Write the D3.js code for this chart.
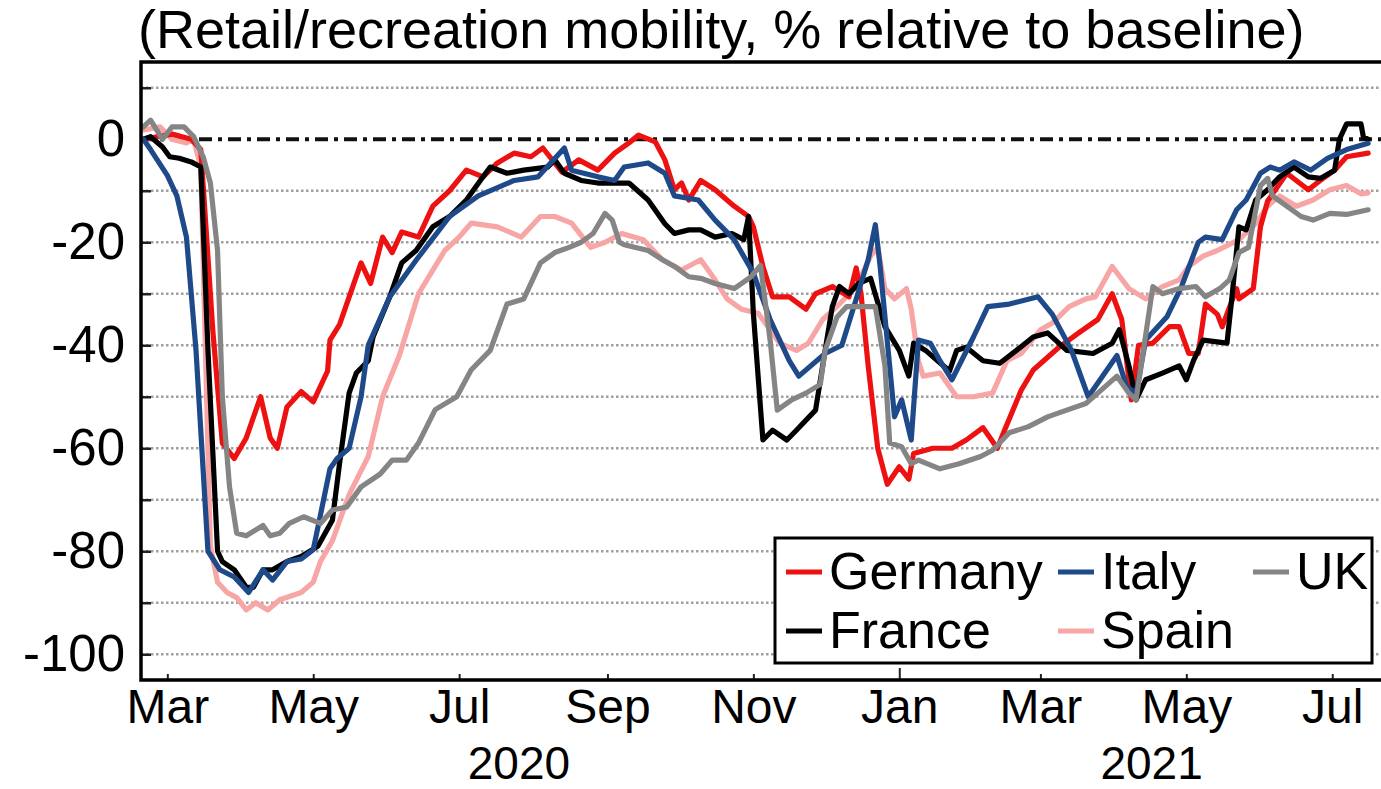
<!DOCTYPE html>
<html><head><meta charset="utf-8">
<script src="https://cdn.jsdelivr.net/npm/d3@7"></script>
<style>
html,body{margin:0;padding:0;background:#fff;}
svg{display:block;font-family:"Liberation Sans",Arial,sans-serif;}
</style></head>
<body>
<svg id="chart" width="1381" height="789"></svg>
<script>
// ---------- data ----------
const titleText = "(Retail/recreation mobility, % relative to baseline)";
const yTickValues = [0, -20, -40, -60, -80, -100];
const gridValues = [10, 0, -10, -20, -30, -40, -50, -60, -70, -80, -90, -100];
const monthTicks = ["2020-03-01","2020-05-01","2020-07-01","2020-09-01","2020-11-01","2021-01-01","2021-03-01","2021-05-01","2021-07-01"];
const yearLabels = [["2020","2020-02-19","2020-12-31"],["2021","2021-01-01","2021-07-31"]];

const germany = [["2020-02-20",0],["2020-03-03",1],["2020-03-11",0],["2020-03-15",-2],["2020-03-20",-37],["2020-03-24",-59],["2020-03-29",-62],["2020-04-03",-58],["2020-04-09",-50],["2020-04-13",-58],["2020-04-16",-60],["2020-04-20",-52],["2020-04-26",-49],["2020-05-01",-51],["2020-05-07",-45],["2020-05-08",-39],["2020-05-12",-36],["2020-05-18",-28],["2020-05-21",-24],["2020-05-25",-28],["2020-05-30",-19],["2020-06-03",-22],["2020-06-07",-18],["2020-06-14",-19],["2020-06-20",-13],["2020-06-27",-10],["2020-07-04",-6],["2020-07-11",-7.3],["2020-07-17",-4.6],["2020-07-24",-2.7],["2020-07-31",-3.4],["2020-08-05",-1.7],["2020-08-13",-6.4],["2020-08-20",-4],["2020-08-28",-6],["2020-09-04",-2.7],["2020-09-10",-0.7],["2020-09-14",0.8],["2020-09-21",-0.5],["2020-09-25",-4],["2020-09-29",-9.8],["2020-10-02",-8.5],["2020-10-05",-11.8],["2020-10-10",-8],["2020-10-16",-9.8],["2020-10-24",-13],["2020-10-30",-15],["2020-11-01",-17],["2020-11-05",-24.7],["2020-11-09",-30.6],["2020-11-16",-30.6],["2020-11-23",-33],["2020-11-27",-30],["2020-12-04",-28.6],["2020-12-11",-30.6],["2020-12-14",-25],["2020-12-16",-30],["2020-12-19",-44],["2020-12-23",-60],["2020-12-27",-67],["2021-01-01",-63.6],["2021-01-05",-66],["2021-01-07",-61],["2021-01-15",-60],["2021-01-23",-60],["2021-01-29",-58.4],["2021-02-05",-56],["2021-02-11",-60],["2021-02-14",-56.5],["2021-02-21",-48.7],["2021-02-26",-44.8],["2021-03-09",-40.3],["2021-03-17",-37.6],["2021-03-25",-35],["2021-03-31",-30],["2021-04-04",-35],["2021-04-08",-50.6],["2021-04-11",-40],["2021-04-17",-39.6],["2021-04-24",-36.4],["2021-04-28",-36.4],["2021-05-02",-41.6],["2021-05-06",-41.6],["2021-05-09",-32],["2021-05-14",-34],["2021-05-16",-36.4],["2021-05-22",-29],["2021-05-23",-31],["2021-05-29",-29],["2021-06-01",-17],["2021-06-04",-12],["2021-06-12",-6.6],["2021-06-21",-9.8],["2021-06-26",-8],["2021-07-02",-6],["2021-07-07",-3.4],["2021-07-16",-2.7]];

const italy = [["2020-02-20",0],["2020-02-23",-2],["2020-03-01",-7],["2020-03-05",-11],["2020-03-09",-19],["2020-03-13",-41],["2020-03-18",-80],["2020-03-23",-83.6],["2020-03-29",-85],["2020-04-04",-88],["2020-04-10",-83.6],["2020-04-14",-85.6],["2020-04-20",-82],["2020-04-26",-81.5],["2020-05-01",-79.7],["2020-05-04",-73],["2020-05-08",-64],["2020-05-11",-62],["2020-05-16",-60],["2020-05-21",-50],["2020-05-24",-40],["2020-06-02",-30.6],["2020-06-13",-23.5],["2020-06-27",-15],["2020-07-09",-11],["2020-07-24",-8],["2020-08-03",-7.3],["2020-08-14",-1.7],["2020-08-17",-6],["2020-08-28",-7.3],["2020-09-04",-8],["2020-09-08",-5.4],["2020-09-18",-4.6],["2020-09-25",-6.6],["2020-09-29",-11],["2020-10-09",-11.8],["2020-10-16",-15.7],["2020-10-24",-19.5],["2020-11-01",-26],["2020-11-08",-35],["2020-11-16",-43],["2020-11-20",-46],["2020-12-01",-41.6],["2020-12-08",-40],["2020-12-14",-31],["2020-12-19",-23.4],["2020-12-22",-16.6],["2020-12-24",-24.7],["2020-12-30",-53.9],["2021-01-02",-50.6],["2021-01-06",-58.4],["2021-01-09",-39],["2021-01-14",-39.6],["2021-01-18",-43],["2021-01-23",-46.7],["2021-02-01",-38.4],["2021-02-07",-32.5],["2021-02-16",-32],["2021-02-28",-30.6],["2021-03-06",-34],["2021-03-14",-41],["2021-03-21",-50],["2021-04-02",-42],["2021-04-06",-48],["2021-04-10",-49.3],["2021-04-14",-39],["2021-04-23",-34.4],["2021-04-29",-28.6],["2021-05-06",-20],["2021-05-09",-19],["2021-05-16",-19.5],["2021-05-22",-13.7],["2021-05-26",-11.8],["2021-06-01",-6.6],["2021-06-05",-5.4],["2021-06-09",-6],["2021-06-15",-4.4],["2021-06-22",-6],["2021-06-29",-3.7],["2021-07-07",-2],["2021-07-16",-0.8]];

const uk = [["2020-02-20",2.4],["2020-02-23",3.7],["2020-02-28",0],["2020-03-03",2.4],["2020-03-08",2.4],["2020-03-12",0.5],["2020-03-16",-3.4],["2020-03-19",-8.5],["2020-03-22",-21.6],["2020-03-24",-50],["2020-03-27",-67.5],["2020-03-30",-76.5],["2020-04-03",-77],["2020-04-10",-75],["2020-04-13",-77],["2020-04-17",-76.5],["2020-04-21",-74.6],["2020-04-27",-73.3],["2020-05-04",-74.6],["2020-05-09",-72],["2020-05-15",-71.4],["2020-05-21",-67.5],["2020-05-29",-65],["2020-06-03",-62.3],["2020-06-09",-62.3],["2020-06-14",-59],["2020-06-21",-52.5],["2020-06-30",-50],["2020-07-06",-44.8],["2020-07-14",-41],["2020-07-21",-32],["2020-07-28",-31],["2020-08-04",-24],["2020-08-10",-22],["2020-08-16",-21],["2020-08-21",-20],["2020-08-26",-18.3],["2020-08-31",-14.4],["2020-09-03",-15.7],["2020-09-06",-20],["2020-09-08",-20.5],["2020-09-18",-21.6],["2020-09-24",-23.4],["2020-09-29",-24.7],["2020-10-05",-26.7],["2020-10-10",-27],["2020-10-16",-28],["2020-10-24",-29],["2020-10-31",-26.7],["2020-11-04",-24.5],["2020-11-08",-39],["2020-11-11",-52.6],["2020-11-17",-50.6],["2020-11-23",-49.3],["2020-11-29",-47.6],["2020-12-01",-41],["2020-12-06",-34.5],["2020-12-10",-32.5],["2020-12-22",-32.5],["2020-12-26",-44],["2020-12-28",-59],["2021-01-02",-59.7],["2021-01-06",-63],["2021-01-09",-62.3],["2021-01-18",-64],["2021-01-26",-63],["2021-02-04",-61.6],["2021-02-09",-60.4],["2021-02-16",-57],["2021-02-24",-55.8],["2021-03-04",-53.9],["2021-03-12",-52.6],["2021-03-20",-51.3],["2021-03-25",-49.3],["2021-04-02",-46],["2021-04-07",-49.3],["2021-04-10",-50.6],["2021-04-17",-28.6],["2021-04-21",-30],["2021-04-28",-29],["2021-05-05",-28.6],["2021-05-09",-30.6],["2021-05-15",-29],["2021-05-19",-27.3],["2021-05-23",-22],["2021-05-27",-21],["2021-06-01",-9],["2021-06-04",-7.6],["2021-06-06",-11],["2021-06-12",-13],["2021-06-18",-15],["2021-06-23",-15.7],["2021-06-30",-14.4],["2021-07-07",-14.6],["2021-07-16",-13.7]];

const france = [["2020-02-20",0],["2020-02-23",0.5],["2020-02-28",-1.5],["2020-03-02",-3.4],["2020-03-06",-3.7],["2020-03-11",-4.4],["2020-03-15",-5.4],["2020-03-18",-41],["2020-03-22",-80],["2020-03-24",-82],["2020-03-29",-83.6],["2020-04-03",-87],["2020-04-06",-87],["2020-04-10",-83.6],["2020-04-14",-83.6],["2020-04-20",-82],["2020-04-26",-81],["2020-05-03",-79],["2020-05-09",-74],["2020-05-12",-63],["2020-05-16",-49.3],["2020-05-19",-45.4],["2020-05-24",-43],["2020-05-26",-38.4],["2020-06-02",-30.6],["2020-06-07",-24],["2020-06-13",-21.6],["2020-06-20",-17],["2020-06-27",-15],["2020-07-04",-11.8],["2020-07-11",-7.3],["2020-07-14",-5.4],["2020-07-21",-6.6],["2020-07-28",-6],["2020-08-07",-5.4],["2020-08-10",-4],["2020-08-14",-6.6],["2020-08-21",-8],["2020-08-28",-8.5],["2020-09-10",-8.5],["2020-09-18",-11.8],["2020-09-25",-16.4],["2020-09-29",-18.3],["2020-10-05",-17.6],["2020-10-10",-17.6],["2020-10-16",-19],["2020-10-23",-18.3],["2020-10-28",-19.5],["2020-10-30",-15],["2020-11-01",-33.8],["2020-11-05",-58.4],["2020-11-09",-56.5],["2020-11-15",-58.4],["2020-11-19",-56.5],["2020-11-27",-52.6],["2020-12-01",-41],["2020-12-04",-32.5],["2020-12-07",-28.6],["2020-12-11",-30],["2020-12-15",-28],["2020-12-20",-27],["2020-12-26",-36.4],["2021-01-01",-41],["2021-01-05",-46],["2021-01-07",-39.6],["2021-01-12",-41],["2021-01-17",-43],["2021-01-22",-45],["2021-01-25",-41],["2021-01-29",-40.4],["2021-02-05",-43],["2021-02-12",-43.5],["2021-02-19",-41],["2021-02-26",-38.4],["2021-03-04",-37.6],["2021-03-12",-41],["2021-03-23",-41.6],["2021-03-31",-39.6],["2021-04-03",-37],["2021-04-07",-44],["2021-04-10",-50.6],["2021-04-14",-46.7],["2021-04-21",-45.4],["2021-04-28",-44],["2021-05-01",-46.7],["2021-05-04",-43],["2021-05-08",-39],["2021-05-18",-39.6],["2021-05-20",-31],["2021-05-23",-17],["2021-05-26",-17.6],["2021-05-30",-11.8],["2021-06-04",-9.8],["2021-06-09",-7.3],["2021-06-15",-5.4],["2021-06-21",-7.3],["2021-06-26",-7.6],["2021-07-02",-6],["2021-07-04",0],["2021-07-07",3],["2021-07-13",3],["2021-07-14",0.5],["2021-07-16",0]];

const spain = [["2020-02-20",1.8],["2020-02-27",2.4],["2020-03-03",0],["2020-03-09",-0.7],["2020-03-12",0],["2020-03-15",-5.4],["2020-03-19",-79],["2020-03-22",-86],["2020-03-26",-88],["2020-03-30",-89],["2020-04-03",-91.4],["2020-04-07",-90],["2020-04-12",-91.4],["2020-04-17",-89.4],["2020-04-26",-88],["2020-05-01",-86],["2020-05-04",-82],["2020-05-09",-78],["2020-05-16",-69],["2020-05-24",-61.6],["2020-05-30",-50],["2020-06-06",-42],["2020-06-14",-30],["2020-06-20",-25.4],["2020-06-25",-21.6],["2020-07-01",-19],["2020-07-06",-16.3],["2020-07-17",-17],["2020-07-27",-19],["2020-08-04",-15],["2020-08-10",-15],["2020-08-17",-16.3],["2020-08-25",-21],["2020-08-31",-20],["2020-09-07",-18.3],["2020-09-16",-19.5],["2020-09-24",-23.4],["2020-10-02",-25.4],["2020-10-10",-23.4],["2020-10-16",-27.3],["2020-10-21",-31],["2020-10-27",-33],["2020-11-03",-33.8],["2020-11-08",-37],["2020-11-12",-39.6],["2020-11-19",-41],["2020-11-24",-39.6],["2020-11-30",-35],["2020-12-07",-32],["2020-12-14",-28.6],["2020-12-20",-22.7],["2020-12-23",-21],["2020-12-26",-29],["2020-12-30",-31],["2021-01-04",-29],["2021-01-06",-33],["2021-01-09",-43],["2021-01-11",-46],["2021-01-18",-45.4],["2021-01-25",-50],["2021-02-01",-50],["2021-02-09",-49.3],["2021-02-15",-43],["2021-02-21",-41.6],["2021-03-01",-37],["2021-03-06",-35.7],["2021-03-13",-32.5],["2021-03-20",-31],["2021-03-24",-30.6],["2021-03-31",-24.7],["2021-04-07",-29],["2021-04-14",-31],["2021-04-21",-28.6],["2021-04-28",-27.3],["2021-05-02",-24.7],["2021-05-08",-22.7],["2021-05-14",-21.6],["2021-05-23",-19.5],["2021-05-30",-16.4],["2021-06-04",-13],["2021-06-09",-11],["2021-06-16",-13],["2021-06-23",-11.8],["2021-06-30",-9.8],["2021-07-07",-9],["2021-07-13",-10.6],["2021-07-16",-10.4]];

const seriesNames = ["Germany","Italy","UK","France","Spain"];
const seriesColors = {Germany:"#ee1111", Italy:"#1f4a8a", UK:"#858585", France:"#000000", Spain:"#f8a5a5"};
const seriesData = {Germany:germany, Italy:italy, UK:uk, France:france, Spain:spain};
const drawOrder = ["Spain","Germany","France","Italy","UK"];

// ---------- layout ----------
const svg = d3.select("#chart");
const plot = {left:141, top:62, bottom:680, right:1404};
const parse = d3.utcParse("%Y-%m-%d");
const x = d3.scaleUtc().domain([parse("2020-02-19"), parse("2021-07-31")]).range([plot.left, plot.right]);
const y = d3.scaleLinear().domain([-105, 15]).range([plot.bottom, plot.top]);
const FONT = 51;

// grid lines
svg.append("g").selectAll("line").data(gridValues.filter(v => v !== 0)).join("line")
  .attr("x1", plot.left).attr("x2", plot.right)
  .attr("y1", d => y(d)).attr("y2", d => y(d))
  .attr("stroke", "#a0a0a0").attr("stroke-width", 2.4).attr("stroke-dasharray", "2.5,2.5");

// zero line dash-dot
svg.append("line").attr("x1", plot.left).attr("x2", plot.right)
  .attr("y1", y(0)).attr("y2", y(0))
  .attr("stroke", "#111").attr("stroke-width", 4).attr("stroke-dasharray", "13,6,4,6");

// y axis
const yAxis = d3.axisLeft(y).tickValues(gridValues).tickSize(-10)
  .tickFormat(d => yTickValues.includes(d) ? String(d) : "").tickPadding(16);
const gy = svg.append("g").attr("transform", `translate(${plot.left},0)`).call(yAxis);
gy.select(".domain").remove();
gy.selectAll(".tick line").attr("stroke", "#222").attr("stroke-width", 2.5);
gy.selectAll(".tick text").attr("font-size", FONT).attr("fill", "#000").attr("font-family", "Liberation Sans, Arial, sans-serif");

// x axis
const xAxis = d3.axisBottom(x).tickValues(monthTicks.map(parse)).tickSize(-6).tickFormat(d3.utcFormat("%b")).tickPadding(9);
const gx = svg.append("g").attr("transform", `translate(0,${plot.bottom})`).call(xAxis);
gx.select(".domain").remove();
gx.selectAll(".tick line").attr("stroke", "#222").attr("stroke-width", 2)
  .attr("y2", d => d.getUTCMonth() === 0 ? -12 : -6);
gx.selectAll(".tick text").attr("font-size", 48).attr("fill", "#000").attr("font-family", "Liberation Sans, Arial, sans-serif");

// year labels
svg.append("g").selectAll("text").data(yearLabels).join("text")
  .attr("x", d => (x(parse(d[1])) + x(parse(d[2]))) / 2)
  .attr("y", 779).attr("text-anchor", "middle").attr("font-size", 46).text(d => d[0]);

// series
const line = d3.line().x(d => x(parse(d[0]))).y(d => y(d[1]));
svg.append("g").selectAll("path").data(drawOrder).join("path")
  .attr("d", k => line(seriesData[k]))
  .attr("fill", "none").attr("stroke", k => seriesColors[k])
  .attr("stroke-width", 5.2).attr("stroke-linejoin", "round").attr("stroke-linecap", "round");

// frame
svg.append("path")
  .attr("d", `M${plot.right},${plot.top}H${plot.left}V${plot.bottom}H${plot.right}`)
  .attr("fill", "none").attr("stroke", "#000").attr("stroke-width", 3.5);

// title
svg.append("text").attr("x", 138).attr("y", 48).attr("font-size", 54).text(titleText);

// legend
const lg = svg.append("g");
lg.append("rect").attr("x", 775).attr("y", 538).attr("width", 597).attr("height", 125)
  .attr("fill", "#fff").attr("stroke", "#000").attr("stroke-width", 3);
const legendPos = {Germany:[786, 572], Italy:[1058, 572], UK:[1253, 572], France:[786, 631], Spain:[1058, 631]};
seriesNames.forEach(k => {
  const [lx, ly] = legendPos[k];
  lg.append("line").attr("x1", lx).attr("x2", lx + 36).attr("y1", ly).attr("y2", ly)
    .attr("stroke", seriesColors[k]).attr("stroke-width", 5);
  lg.append("text").attr("x", lx + 43).attr("y", ly + 17).attr("font-size", 52).text(k);
});
</script>
</body></html>
